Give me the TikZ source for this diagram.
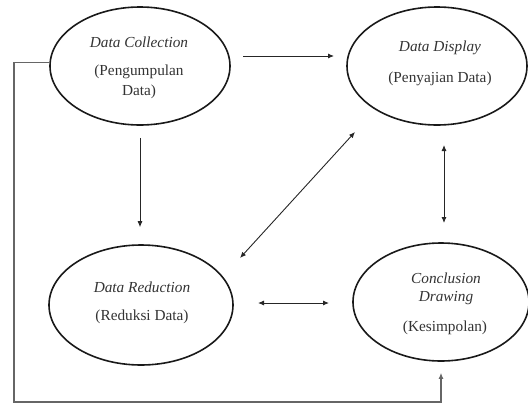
\documentclass[tikz,border=0pt]{standalone}
\usepackage{fontspec}
\setmainfont{Liberation Serif}
\usetikzlibrary{shapes.geometric,arrows.meta}
\begin{document}
\begin{tikzpicture}[x=1pt,y=-1pt,
  stage/.style={ellipse,draw=black!90,line width=1.6pt,inner sep=0pt},
  lab/.style={inner sep=0pt,text=black!80,font=\fontsize{15.3}{18}\selectfont},
  itlab/.style={lab,font=\fontsize{15.3}{18}\selectfont\itshape},
  arr/.style={draw=black!85,line width=0.9pt,-{Latex[length=6pt,width=5pt]}},
  darr/.style={draw=black!85,line width=0.9pt,{Latex[length=6pt,width=5pt]}-{Latex[length=6pt,width=5pt]}},
  fbline/.style={draw=black!60,line width=1.3pt,-{Latex[length=6pt,width=5pt]}}]
\useasboundingbox (0,0) rectangle (528,405);
\node[stage,minimum width=180pt,minimum height=118pt] (dc) at (140,66) {};
\node[stage,minimum width=180pt,minimum height=118pt] (dd) at (437,66) {};
\node[stage,minimum width=184pt,minimum height=120pt] (dr) at (141,305) {};
\node[stage,minimum width=176pt,minimum height=118pt] (cd) at (441,302) {};
% labels
\node[itlab] (dc1) at (139,42) {Data Collection};
\node[lab] (dc2) at (139,72) {(Pengumpulan};
\node[lab] (dc3) at (139,92) {Data)};
\node[itlab] (dd1) at (440,48) {Data Display};
\node[lab] (dd2) at (440,79) {(Penyajian Data)};
\node[itlab] (dr1) at (142,287) {Data Reduction};
\node[lab] (dr2) at (142,317) {(Reduksi Data)};
\node[itlab] (cd1) at (446,278) {Conclusion};
\node[itlab] (cd2) at (446,298) {Drawing};
\node[lab] (cd3) at (445,328) {(Kesimpolan)};
% connectors
\coordinate (h1) at (243,56);
\coordinate (h2) at (334,56);
\draw[arr] (h1) -- (h2);
\draw[arr] ([yshift=-12pt]dc.south) -- ([yshift=17pt]dc.south |- dr.north);
\coordinate (g1) at (240,258);
\coordinate (g2) at (355,132);
\draw[darr] (g1) -- (g2);
\coordinate (v1) at (444,145);
\coordinate (v2) at (444,223);
\draw[darr] (v1) -- (v2);
\coordinate (r1) at (258,303);
\coordinate (r2) at (329,303);
\draw[darr] (r1) -- (r2);
\coordinate (fb) at (14,402);
\draw[fbline,shorten >=11pt] (dc.178) -| (fb) -| (cd.south);
\end{tikzpicture}
\end{document}
